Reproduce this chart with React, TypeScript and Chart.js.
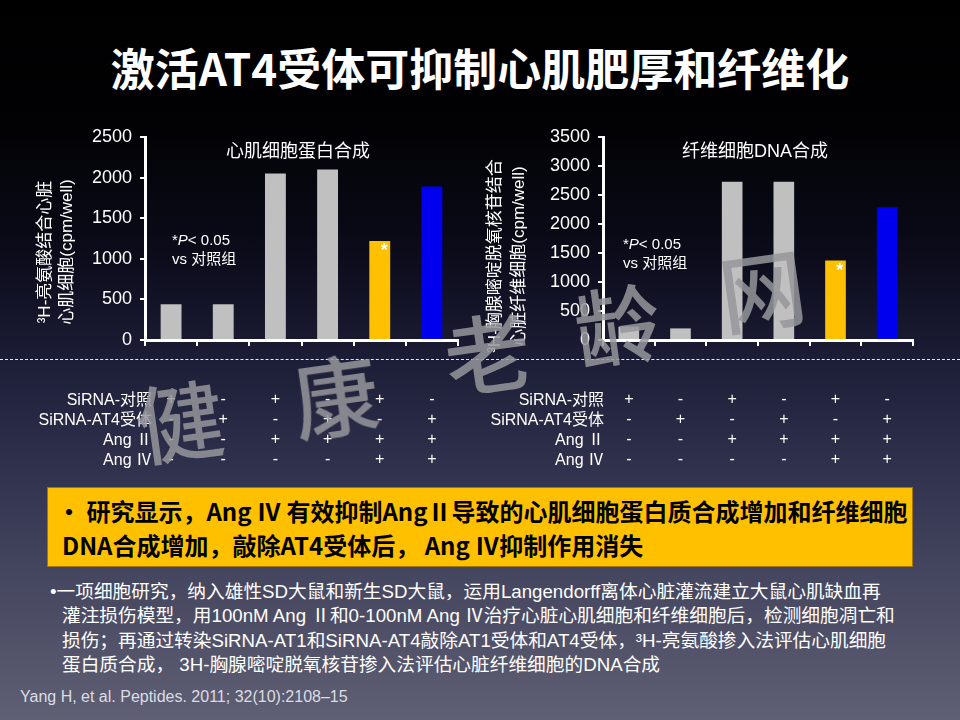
import React, { useEffect, useRef } from "react";
import { Chart, registerables } from "chart.js";
Chart.register(...registerables);

const groups = [
  "SiRNA-对照",
  "SiRNA-AT4受体",
  "SiRNA-对照+Ang Ⅱ",
  "SiRNA-AT4受体+Ang Ⅱ",
  "SiRNA-对照+Ang Ⅱ+Ang Ⅳ",
  "SiRNA-AT4受体+Ang Ⅱ+Ang Ⅳ",
];
const rowLabels = ["SiRNA-对照", "SiRNA-AT4受体", "Ang Ⅱ", "Ang Ⅳ"];
const rowSiControl = ["+", "-", "+", "-", "+", "-"];
const rowSiAT4 = ["-", "+", "-", "+", "-", "+"];
const rowAngII = ["-", "-", "+", "+", "+", "+"];
const rowAngIV = ["-", "-", "-", "-", "+", "+"];

const proteinValues = [440, 440, 2050, 2100, 1220, 1890];
const dnaValues = [230, 200, 2730, 2730, 1370, 2290];
const barColors = ["#c0c0c0", "#c0c0c0", "#c0c0c0", "#c0c0c0", "#ffc000", "#0000ee"];
const significant = [false, false, false, false, true, false];

const proteinTicks = [0, 500, 1000, 1500, 2000, 2500];
const dnaTicks = [0, 500, 1000, 1500, 2000, 2500, 3000, 3500];

const FONT = "'Liberation Sans', Arial, 'Noto Sans CJK SC', sans-serif";
const CJK = "'Noto Sans CJK SC', 'Liberation Sans', sans-serif";

const starPlugin = {
  id: "starMark",
  afterDatasetsDraw(chart: any) {
    const meta = chart.getDatasetMeta(0);
    const ctx = chart.ctx;
    significant.forEach((s, i) => {
      if (!s) return;
      const el: any = meta.data[i];
      ctx.save();
      ctx.fillStyle = "#ffffff";
      ctx.font = "bold 18px " + FONT;
      ctx.textAlign = "center";
      ctx.textBaseline = "top";
      ctx.fillText("*", el.x + el.width / 2 - 6, el.y + 1);
      ctx.restore();
    });
  },
};

function BarChart(props: { values: number[]; ticks: number[]; yWidth: number; padRight: number }) {
  const ref = useRef<HTMLCanvasElement>(null);
  useEffect(() => {
    if (!ref.current) return;
    const tv = props.ticks;
    const chart = new Chart(ref.current, {
      type: "bar",
      data: {
        labels: groups,
        datasets: [
          {
            data: props.values,
            backgroundColor: barColors,
            barPercentage: 0.4,
            categoryPercentage: 1,
          },
        ],
      },
      options: {
        animation: false,
        responsive: false,
        maintainAspectRatio: false,
        layout: { padding: { top: 27, right: props.padRight, bottom: 5, left: 0 } },
        plugins: { legend: { display: false }, tooltip: { enabled: false } },
        scales: {
          x: {
            offset: true,
            grid: {
              display: true,
              offset: true,
              drawOnChartArea: false,
              color: "#ffffff",
              lineWidth: 2,
              tickLength: 6,
            },
            border: { color: "#ffffff", width: 3 },
            ticks: {
              color: "#ffffff",
              font: { size: 16, family: FONT, lineHeight: 1.25 },
              padding: 4,
              autoSkip: false,
              maxRotation: 0,
              minRotation: 0,
              callback: (_v: any, i: number) => ["", "", rowSiControl[i], rowSiAT4[i], rowAngII[i], rowAngIV[i]],
            },
          },
          y: {
            min: tv[0],
            max: tv[tv.length - 1],
            afterBuildTicks: (s: any) => {
              s.ticks = tv.map((v) => ({ value: v }));
            },
            ticks: {
              color: "#ffffff",
              font: { size: 18, family: FONT },
              padding: 8,
              callback: (v: any) => String(v),
            },
            grid: {
              drawOnChartArea: false,
              color: "#ffffff",
              lineWidth: 2,
              tickLength: 5,
            },
            border: { color: "#ffffff", width: 3 },
            afterFit: (s: any) => {
              s.width = props.yWidth;
            },
          },
        },
      },
      plugins: [starPlugin],
    } as any);
    return () => chart.destroy();
  }, []);
  return <canvas ref={ref} width={440} height={369} style={{ width: 440, height: 369, display: "block" }} />;
}

const abs = (l: number, t: number, extra: any = {}) => ({ position: "absolute" as const, left: l, top: t, ...extra });

function YTitle(props: { lines: string[]; cx: number; cy: number; gap: number }) {
  const W = 260;
  const H = props.gap * props.lines.length;
  return (
    <div
      style={abs(props.cx - W / 2, props.cy - H / 2, {
        width: W,
        height: H,
        transform: "rotate(-90deg)",
        textAlign: "center",
        color: "#fff",
        fontSize: 17,
        lineHeight: props.gap + "px",
        fontFamily: FONT,
        whiteSpace: "nowrap",
      })}
    >
      {props.lines.map((l, i) => (
        <div key={i}>{l}</div>
      ))}
    </div>
  );
}

function RowLabels(props: { right: number }) {
  return (
    <div
      style={abs(props.right - 200, 390, {
        width: 200,
        textAlign: "right",
        color: "#fff",
        fontSize: 16,
        lineHeight: "20px",
        fontFamily: FONT,
        whiteSpace: "nowrap",
      })}
    >
      {rowLabels.map((l, i) => (
        <div key={i}>{l}</div>
      ))}
    </div>
  );
}

const watermark = [
  { ch: "健", x: 180, y: 418 },
  { ch: "康", x: 335, y: 393 },
  { ch: "老", x: 487, y: 350 },
  { ch: "龄", x: 617, y: 322 },
  { ch: "网", x: 762, y: 287 },
];

export default function App() {
  return (
    <div
      style={abs(0, 0, {
        width: 960,
        height: 720,
        overflow: "hidden",
        background:
          "linear-gradient(to bottom, #000000 0%, #020205 18%, #0b0b1a 35%, #1c1d36 50%, #2c2d49 62%, #45465f 80%, #5f6074 100%)",
        fontFamily: CJK,
      })}
    >
      <div
        style={abs(0, 38, {
          width: 960,
          textAlign: "center",
          color: "#fff",
          fontSize: 44,
          fontWeight: 700,
          lineHeight: "58px",
          fontFamily: CJK,
          whiteSpace: "nowrap",
        })}
      >
        激活AT4受体可抑制心肌肥厚和纤维化
      </div>

      <div style={abs(0, 359, { width: 960, borderTop: "1px dashed rgba(255,255,255,0.9)" })} />

      <div style={abs(30, 110)}>
        <BarChart values={proteinValues} ticks={proteinTicks} yWidth={115} padRight={12} />
      </div>
      <div style={abs(480, 110)}>
        <BarChart values={dnaValues} ticks={dnaTicks} yWidth={123} padRight={7} />
      </div>

      <YTitle lines={["³H-亮氨酸结合心脏", "心肌细胞(cpm/well)"]} cx={56} cy={252} gap={22} />
      <YTitle lines={["³H-胸腺嘧啶脱氧核苷结合", "心脏纤维细胞(cpm/well)"]} cx={507} cy={256} gap={24} />

      <div style={abs(148, 139, { width: 300, textAlign: "center", color: "#fff", fontSize: 18, lineHeight: "24px", fontFamily: FONT })}>
        心肌细胞蛋白合成
      </div>
      <div style={abs(605, 139, { width: 300, textAlign: "center", color: "#fff", fontSize: 18, lineHeight: "24px", fontFamily: FONT })}>
        纤维细胞DNA合成
      </div>

      <div style={abs(172, 230, { color: "#fff", fontSize: 15, lineHeight: "19px", fontFamily: FONT, whiteSpace: "nowrap" })}>
        <div>
          *<i>P</i>&lt; 0.05
        </div>
        <div>vs 对照组</div>
      </div>
      <div style={abs(623, 234, { color: "#fff", fontSize: 15, lineHeight: "19px", fontFamily: FONT, whiteSpace: "nowrap" })}>
        <div>
          *<i>P</i>&lt; 0.05
        </div>
        <div>vs 对照组</div>
      </div>

      <RowLabels right={152} />
      <RowLabels right={604} />

      <div
        style={abs(47, 487, {
          width: 866,
          height: 80,
          background: "#ffc000",
          border: "1px solid #a07800",
          boxSizing: "border-box",
        })}
      />
      <div
        style={abs(57, 494, {
          color: "#000",
          fontSize: 24,
          fontWeight: 700,
          lineHeight: "34px",
          fontFamily: CJK,
          whiteSpace: "nowrap",
        })}
      >
        <div>• 研究显示，Ang Ⅳ 有效抑制AngⅡ导致的心肌细胞蛋白质合成增加和纤维细胞</div>
        <div style={{ paddingLeft: 5 }}>DNA合成增加，敲除AT4受体后， Ang Ⅳ抑制作用消失</div>
      </div>

      <div
        style={abs(50, 580, {
          color: "#fff",
          fontSize: 18.7,
          lineHeight: "24.4px",
          fontFamily: FONT,
          whiteSpace: "nowrap",
        })}
      >
        <div>•一项细胞研究，纳入雄性SD大鼠和新生SD大鼠，运用Langendorff离体心脏灌流建立大鼠心肌缺血再</div>
        <div style={{ paddingLeft: 12 }}>灌注损伤模型，用100nM Ang Ⅱ和0-100nM Ang Ⅳ治疗心脏心肌细胞和纤维细胞后，检测细胞凋亡和</div>
        <div style={{ paddingLeft: 12 }}>损伤；再通过转染SiRNA-AT1和SiRNA-AT4敲除AT1受体和AT4受体，³H-亮氨酸掺入法评估心肌细胞</div>
        <div style={{ paddingLeft: 12 }}>蛋白质合成， 3H-胸腺嘧啶脱氧核苷掺入法评估心脏纤维细胞的DNA合成</div>
      </div>

      <div style={abs(20, 687, { color: "#dcdce4", fontSize: 16, lineHeight: "20px", fontFamily: FONT, whiteSpace: "nowrap" })}>
        Yang H, et al. Peptides. 2011; 32(10):2108–15
      </div>

      {watermark.map((w, i) => (
        <div
          key={i}
          style={abs(w.x - 50, w.y - 50, {
            width: 100,
            height: 100,
            textAlign: "center",
            lineHeight: "100px",
            fontSize: 86,
            color: "rgba(150,150,155,0.85)",
            fontFamily: CJK,
            fontWeight: 500,
            pointerEvents: "none",
            transform: "rotate(-8deg)",
          })}
        >
          {w.ch}
        </div>
      ))}
    </div>
  );
}
